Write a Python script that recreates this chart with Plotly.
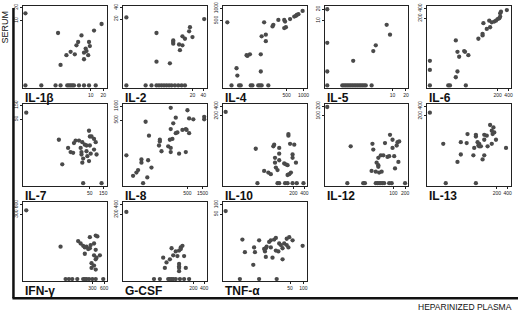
import plotly.graph_objects as go

# Panel names (cytokines)
PANELS = ["IL-1β", "IL-2", "IL-4", "IL-5", "IL-6",
          "IL-7", "IL-8", "IL-10", "IL-12", "IL-13",
          "IFN-γ", "G-CSF", "TNF-α"]

# Points: fractional position on each panel's log axes (plasma = x, serum = y)
IL1B_X = [0.03, 0.42, 0.94, 0.85, 0.70, 0.66, 0.64, 0.79, 0.80, 0.75, 0.76, 0.73, 0.78, 0.73, 0.57, 0.52, 0.62, 0.45,
          0.03, 0.22, 0.39, 0.45, 0.53, 0.55, 0.57, 0.59, 0.61, 0.67, 0.73, 0.79, 0.87]
IL1B_Y = [0.91, 0.67, 0.78, 0.70, 0.64, 0.56, 0.52, 0.56, 0.51, 0.48, 0.45, 0.43, 0.40, 0.35, 0.44, 0.40, 0.41, 0.28,
          0.03, 0.03, 0.03, 0.03, 0.03, 0.03, 0.03, 0.03, 0.03, 0.03, 0.03, 0.03, 0.03]

IL2_X = [0.04, 0.97, 0.40, 0.80, 0.79, 0.71, 0.74, 0.83, 0.60, 0.60, 0.60, 0.67, 0.71, 0.68, 0.40, 0.56,
         0.04, 0.27, 0.34, 0.40, 0.43, 0.46, 0.49, 0.52, 0.55, 0.58, 0.62, 0.66, 0.70, 0.74]
IL2_Y = [0.86, 0.84, 0.67, 0.74, 0.69, 0.63, 0.60, 0.62, 0.58, 0.56, 0.54, 0.53, 0.52, 0.46, 0.32, 0.30,
         0.03, 0.03, 0.03, 0.03, 0.03, 0.03, 0.03, 0.03, 0.03, 0.03, 0.03, 0.03, 0.03, 0.03]

IL4_X = [0.05, 0.16, 0.17, 0.28, 0.29, 0.32, 0.45, 0.45, 0.46, 0.49, 0.51, 0.51, 0.60, 0.59, 0.66, 0.73, 0.74, 0.73,
         0.75, 0.80, 0.85, 0.87, 0.88, 0.90, 0.95,
         0.10, 0.19, 0.21, 0.33, 0.35, 0.42, 0.44, 0.46, 0.54]
IL4_Y = [0.80, 0.24, 0.15, 0.40, 0.39, 0.41, 0.41, 0.20, 0.63, 0.80, 0.65, 0.57, 0.77, 0.75, 0.83, 0.83, 0.81, 0.73,
         0.74, 0.84, 0.87, 0.88, 0.89, 0.90, 0.94,
         0.03, 0.03, 0.03, 0.03, 0.03, 0.03, 0.03, 0.03, 0.03]

IL5_X = [0.03, 0.03, 0.03, 0.34, 0.74, 0.78, 0.61, 0.58,
         0.03, 0.21, 0.23, 0.25, 0.27, 0.29, 0.31, 0.33, 0.35, 0.37, 0.39, 0.41, 0.43, 0.45, 0.47, 0.49, 0.56]
IL5_Y = [0.96, 0.55, 0.20, 0.33, 0.77, 0.65, 0.52, 0.45,
         0.03, 0.03, 0.03, 0.03, 0.03, 0.03, 0.03, 0.03, 0.03, 0.03, 0.03, 0.03, 0.03, 0.03, 0.03, 0.03, 0.03]

IL6_X = [0.03, 0.03, 0.03, 0.34, 0.36, 0.38, 0.36, 0.34, 0.25, 0.27, 0.46, 0.44, 0.45, 0.49, 0.61, 0.66, 0.66,
         0.67, 0.71, 0.74, 0.75, 0.77, 0.80, 0.82, 0.84, 0.86, 0.87, 0.87, 0.88, 0.95]
IL6_Y = [0.33, 0.22, 0.03, 0.58, 0.44, 0.38, 0.20, 0.13, 0.03, 0.03, 0.03, 0.45, 0.44, 0.40, 0.60, 0.66, 0.64,
         0.79, 0.72, 0.82, 0.74, 0.80, 0.81, 0.82, 0.84, 0.85, 0.87, 0.91, 0.93, 0.95]

IL7_X = [0.04, 0.43, 0.47, 0.79, 0.80, 0.82, 0.85, 0.87, 0.63, 0.67, 0.71, 0.61, 0.74, 0.76, 0.80, 0.69, 0.54,
         0.57, 0.60, 0.70, 0.70, 0.76, 0.85, 0.81, 0.88, 0.77, 0.72, 0.79, 0.71, 0.72, 0.94]
IL7_Y = [0.89, 0.56, 0.26, 0.67, 0.60, 0.60, 0.57, 0.53, 0.55, 0.55, 0.53, 0.52, 0.50, 0.49, 0.49, 0.46, 0.46,
         0.41, 0.40, 0.41, 0.38, 0.42, 0.44, 0.39, 0.38, 0.36, 0.33, 0.30, 0.28, 0.03, 0.03]

IL8_X = [0.57, 0.77, 0.63, 0.79, 0.84, 0.97, 0.97, 0.27, 0.60, 0.57, 0.65, 0.63, 0.71, 0.75, 0.76, 0.79, 0.31,
         0.44, 0.44, 0.56, 0.59, 0.43, 0.54, 0.57, 0.46, 0.57, 0.67, 0.75, 0.04, 0.22, 0.22, 0.30, 0.34,
         0.18, 0.16, 0.12, 0.29, 0.24]
IL8_Y = [0.95, 0.92, 0.83, 0.82, 0.81, 0.84, 0.81, 0.78, 0.76, 0.69, 0.65, 0.64, 0.68, 0.69, 0.68, 0.64, 0.61,
         0.56, 0.54, 0.56, 0.57, 0.49, 0.48, 0.46, 0.42, 0.41, 0.39, 0.41, 0.37, 0.32, 0.28, 0.31, 0.22,
         0.19, 0.16, 0.12, 0.10, 0.03]

IL10_X = [0.03, 0.39, 0.49, 0.54, 0.57, 0.60, 0.61, 0.67, 0.67, 0.62, 0.67, 0.62, 0.63, 0.65, 0.73, 0.75, 0.77,
          0.78, 0.78, 0.80, 0.85, 0.83, 0.83, 0.81, 0.79, 0.77, 0.87,
          0.41, 0.65, 0.67, 0.74, 0.77, 0.83, 0.88, 0.96]
IL10_Y = [0.90, 0.45, 0.18, 0.16, 0.14, 0.48, 0.50, 0.46, 0.39, 0.34, 0.31, 0.28, 0.22, 0.19, 0.27, 0.26, 0.25,
          0.63, 0.61, 0.51, 0.50, 0.38, 0.34, 0.16, 0.14, 0.13, 0.28,
          0.03, 0.03, 0.03, 0.03, 0.03, 0.03, 0.03, 0.03]

IL12_X = [0.03, 0.31, 0.57, 0.58, 0.56, 0.61, 0.65, 0.68, 0.62, 0.64, 0.64, 0.64, 0.67, 0.70, 0.72, 0.75, 0.77,
          0.78, 0.81, 0.81, 0.83, 0.84, 0.86, 0.87, 0.89, 0.88,
          0.27, 0.46, 0.48, 0.61, 0.63, 0.65, 0.67, 0.69, 0.71, 0.77, 0.80, 0.96]
IL12_Y = [0.96, 0.48, 0.51, 0.44, 0.18, 0.17, 0.16, 0.17, 0.28, 0.25, 0.23, 0.34, 0.37, 0.37, 0.52, 0.35, 0.36,
          0.62, 0.56, 0.46, 0.36, 0.21, 0.49, 0.53, 0.54, 0.29,
          0.03, 0.03, 0.03, 0.03, 0.03, 0.03, 0.03, 0.03, 0.03, 0.03, 0.03, 0.03]

IL13_X = [0.03, 0.19, 0.22, 0.36, 0.40, 0.40, 0.47, 0.48, 0.55, 0.56, 0.58, 0.58, 0.60, 0.61, 0.62, 0.62, 0.64,
          0.68, 0.68, 0.71, 0.72, 0.66, 0.68, 0.75, 0.77, 0.78, 0.79, 0.80, 0.77, 0.82, 0.94, 0.58]
IL13_Y = [0.89, 0.51, 0.03, 0.29, 0.38, 0.53, 0.52, 0.63, 0.37, 0.46, 0.60, 0.62, 0.53, 0.49, 0.51, 0.48, 0.48,
          0.62, 0.56, 0.61, 0.48, 0.32, 0.37, 0.74, 0.67, 0.63, 0.71, 0.65, 0.51, 0.56, 0.46, 0.03]

IFNG_X = [0.04, 0.45, 0.66, 0.69, 0.72, 0.74, 0.76, 0.78, 0.80, 0.87, 0.89, 0.85, 0.81, 0.80, 0.87, 0.74, 0.85,
          0.88, 0.92, 0.87, 0.82, 0.85, 0.82, 0.87,
          0.51, 0.55, 0.59, 0.65, 0.72, 0.74, 0.76, 0.79, 0.83, 0.87, 0.96]
IFNG_Y = [0.90, 0.44, 0.51, 0.48, 0.45, 0.43, 0.44, 0.41, 0.56, 0.58, 0.57, 0.48, 0.46, 0.42, 0.40, 0.35, 0.33,
          0.30, 0.33, 0.28, 0.23, 0.20, 0.17, 0.15,
          0.03, 0.03, 0.03, 0.03, 0.03, 0.03, 0.03, 0.03, 0.03, 0.03, 0.03]

GCSF_X = [0.04, 0.58, 0.63, 0.67, 0.69, 0.71, 0.69, 0.60, 0.65, 0.73, 0.56, 0.48, 0.52, 0.67, 0.67, 0.50, 0.67,
          0.75, 0.67, 0.37, 0.44, 0.54, 0.56, 0.58, 0.60, 0.63, 0.68, 0.73, 0.79]
GCSF_Y = [0.88, 0.42, 0.38, 0.39, 0.43, 0.45, 0.41, 0.33, 0.32, 0.32, 0.28, 0.30, 0.24, 0.22, 0.19, 0.17, 0.17,
          0.17, 0.13, 0.03, 0.03, 0.03, 0.03, 0.03, 0.03, 0.03, 0.03, 0.03, 0.03]

TNFA_X = [0.03, 0.23, 0.26, 0.36, 0.37, 0.38, 0.43, 0.49, 0.50, 0.51, 0.52, 0.51, 0.55, 0.57, 0.57, 0.59, 0.61,
          0.63, 0.63, 0.66, 0.67, 0.69, 0.71, 0.71, 0.73, 0.76, 0.76, 0.78, 0.79, 0.83, 0.95,
          0.20, 0.43, 0.64]
TNFA_Y = [0.89, 0.53, 0.37, 0.21, 0.43, 0.37, 0.52, 0.41, 0.38, 0.42, 0.44, 0.31, 0.50, 0.52, 0.43, 0.30, 0.53,
          0.55, 0.39, 0.38, 0.48, 0.46, 0.42, 0.28, 0.48, 0.54, 0.46, 0.43, 0.56, 0.52, 0.45,
          0.03, 0.03, 0.03]

POINTS_X = [IL1B_X, IL2_X, IL4_X, IL5_X, IL6_X, IL7_X, IL8_X, IL10_X, IL12_X, IL13_X, IFNG_X, GCSF_X, TNFA_X]
POINTS_Y = [IL1B_Y, IL2_Y, IL4_Y, IL5_Y, IL6_Y, IL7_Y, IL8_Y, IL10_Y, IL12_Y, IL13_Y, IFNG_Y, GCSF_Y, TNFA_Y]

# Tick labels of each panel (log-scale decades)
X_TICK_TEXT = [["10", "20"], ["20", "40"], ["500", "1000"], ["10", "20"], ["200", "400"],
               ["50", "150"], ["500", "1500"], ["200", "400"], ["100", "200"], ["200", "400"],
               ["300", "600"], ["200", "400"], ["50", "100"]]
X_TICK_POS = [[0.81, 0.96], [0.83, 0.96], [0.76, 0.96], [0.81, 0.97], [0.84, 0.97],
              [0.80, 0.96], [0.77, 0.95], [0.84, 0.97], [0.82, 0.96], [0.83, 0.96],
              [0.83, 0.97], [0.84, 0.97], [0.80, 0.96]]
Y_TICK_TEXT = [["10", "20"], ["20", "40"], ["500", "1000"], ["10", "20"], ["200", "400"],
               ["50", "150"], ["500", "1000"], ["200", "400"], ["100", "200"], ["200", "400"],
               ["300", "600"], ["200", "400"], ["50", "100"]]
Y_TICK_POS = [[0.82, 0.98], [0.84, 0.98], [0.82, 0.97], [0.82, 0.96], [0.85, 0.97],
              [0.81, 0.98], [0.80, 0.97], [0.85, 0.97], [0.85, 0.97], [0.85, 0.97],
              [0.85, 0.97], [0.85, 0.97], [0.85, 0.97]]

W, H = 520, 312
COL_LEFT = [23, 123.5, 224, 326, 429]
PANEL_W = 84
ROWS = [(2, 85), (101, 184), (201, 281)]

fig = go.Figure()
layout = dict(width=W, height=H, autosize=False, margin=dict(l=0, r=0, t=0, b=0),
              paper_bgcolor="white", plot_bgcolor="white", showlegend=False,
              font=dict(family="Arial, Liberation Sans, sans-serif", color="#111"))
annotations = []
for i, name in enumerate(PANELS):
    r, c = divmod(i, 5)
    x0 = COL_LEFT[c]
    y0, y1 = ROWS[r]
    sfx = "" if i == 0 else str(i + 1)
    fig.add_trace(go.Scatter(x=POINTS_X[i], y=POINTS_Y[i], mode="markers", cliponaxis=False,
                             marker=dict(size=4.3, color="#4a4a4a"),
                             xaxis="x" + sfx, yaxis="y" + sfx, hoverinfo="skip"))
    axcommon = dict(range=[0, 1], showgrid=False, zeroline=False, showline=True, mirror=True,
                    linecolor="#222", linewidth=1, ticks="outside", ticklen=2, tickwidth=0.7,
                    tickcolor="#222", tickfont=dict(size=5, color="#222"), fixedrange=True)
    layout["xaxis" + sfx] = dict(axcommon, domain=[x0 / W, (x0 + PANEL_W) / W],
                                 anchor="y" + sfx, tickvals=X_TICK_POS[i], ticktext=X_TICK_TEXT[i],
                                 tickangle=0)
    layout["yaxis" + sfx] = dict(axcommon, domain=[1 - y1 / H, 1 - y0 / H],
                                 anchor="x" + sfx, tickvals=Y_TICK_POS[i], ticktext=Y_TICK_TEXT[i],
                                 tickangle=-90)
    annotations.append(dict(text="<b>" + name + "</b>", x=x0 / W, y=1 - (y1 + 1) / H,
                            xref="paper", yref="paper", xanchor="left", yanchor="top",
                            showarrow=False, font=dict(size=12, color="#111")))

annotations.append(dict(text="SERUM", x=5 / W, y=1 - 4 / H, xref="paper", yref="paper",
                        xanchor="center", yanchor="top", textangle=-90, showarrow=False,
                        font=dict(size=9, color="#111")))
annotations.append(dict(text="HEPARINIZED PLASMA", x=516 / W, y=1 - 307 / H, xref="paper",
                        yref="paper", xanchor="right", yanchor="middle", showarrow=False,
                        font=dict(size=8.5, color="#111")))
layout["annotations"] = annotations
layout["shapes"] = [
    dict(type="line", xref="paper", yref="paper", x0=13.5 / W, x1=13.5 / W, y0=1 - 4 / H, y1=1 - 298 / H,
         line=dict(color="#111", width=2.5)),
    dict(type="line", xref="paper", yref="paper", x0=12.5 / W, x1=1, y0=1 - 298 / H, y1=1 - 298 / H,
         line=dict(color="#111", width=2.5)),
]
fig.update_layout(**layout)
fig.write_html("out.html")
